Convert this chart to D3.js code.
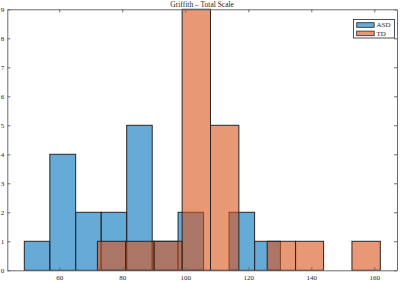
<!DOCTYPE html>
<html><head><meta charset="utf-8">
<script src="https://cdn.jsdelivr.net/npm/d3@7"></script>
<style>body{margin:0;background:#fff}svg{display:block}text{font-family:"Liberation Serif","Times New Roman",serif;fill:#262626}</style>
</head><body><svg id="c" width="400" height="282"></svg>
<script>
const title = "Griffith – Total Scale";
const seriesNames = ["ASD", "TD"];
const asdEdges = [48.9, 57.0, 65.2, 73.3, 81.4, 89.5, 97.7, 105.8, 113.9, 122.0, 130.2];
const asdCounts = [1, 4, 2, 2, 5, 1, 2, 0, 2, 1];
const tdEdges = [72.1, 81.1, 90.1, 99.0, 108.0, 117.0, 126.0, 135.0, 143.9, 152.9, 161.9];
const tdCounts = [1, 1, 1, 9, 5, 0, 1, 1, 0, 1];
const xTicks = [60, 80, 100, 120, 140, 160];
const yTicks = [0, 1, 2, 3, 4, 5, 6, 7, 8, 9];
const xDomain = [43.5, 167.2];
const yDomain = [0, 9];
const colors = ["rgb(0,114,189)", "rgb(217,83,25)"];

const svg = d3.select("#c");
const L = 7.3, R = 397, T = 9.3, B = 270.3;
const x = d3.scaleLinear().domain(xDomain).range([L, R]);
const y = d3.scaleLinear().domain(yDomain).range([B, T]);

function bins(edges, counts) {
  return counts.map((c, i) => ({x0: edges[i], x1: edges[i + 1], c}));
}
[[asdEdges, asdCounts], [tdEdges, tdCounts]].forEach(([e, c], k) => {
  svg.append("g").selectAll("rect").data(bins(e, c).filter(d => d.c > 0)).join("rect")
    .attr("x", d => x(d.x0)).attr("width", d => x(d.x1) - x(d.x0))
    .attr("y", d => y(d.c)).attr("height", d => y(0) - y(d.c))
    .attr("fill", colors[k]).attr("fill-opacity", 0.6)
    .attr("stroke", "#262626").attr("stroke-width", 1);
});

const ax = "#6b6b6b";
const gb = svg.append("g").attr("transform", `translate(0,${B})`)
  .call(d3.axisBottom(x).tickValues(xTicks).tickSizeInner(-3).tickSizeOuter(0).tickPadding(5));
const gt = svg.append("g").attr("transform", `translate(0,${T})`)
  .call(d3.axisTop(x).tickValues(xTicks).tickSizeInner(-3).tickSizeOuter(0).tickFormat(""));
const gl = svg.append("g").attr("transform", `translate(${L},0)`)
  .call(d3.axisLeft(y).tickValues(yTicks).tickSizeInner(-3).tickSizeOuter(0).tickPadding(3));
const gr = svg.append("g").attr("transform", `translate(${R},0)`)
  .call(d3.axisRight(y).tickValues(yTicks).tickSizeInner(-3).tickSizeOuter(0).tickFormat(""));
[gb, gt, gl, gr].forEach(g => {
  g.selectAll("path.domain").attr("stroke", ax);
  g.selectAll("line").attr("stroke", ax);
  g.selectAll("text").attr("font-size", 7).attr("fill", "#262626")
    .style("font-family", '"Liberation Serif",serif');
});
gb.selectAll("text").attr("dy", "0.71em");

svg.append("text").attr("x", (L + R) / 2).attr("y", 7).attr("text-anchor", "middle")
  .attr("font-size", 7.5).text(title);

const lg = svg.append("g");
lg.append("rect").attr("x", 353.5).attr("y", 19.5).attr("width", 41).attr("height", 18.5)
  .attr("fill", "#fff").attr("stroke", "#262626").attr("stroke-width", 0.8);
seriesNames.forEach((n, i) => {
  const yy = 22.7 + i * 8.4;
  lg.append("rect").attr("x", 356.7).attr("y", yy).attr("width", 17.5).attr("height", 4.6)
    .attr("fill", colors[i]).attr("fill-opacity", 0.6).attr("stroke", "#262626").attr("stroke-width", 0.8);
  lg.append("text").attr("x", 376.5).attr("y", yy + 2.3).attr("dy", "0.35em")
    .attr("font-size", 7).text(n);
});
</script></body></html>
